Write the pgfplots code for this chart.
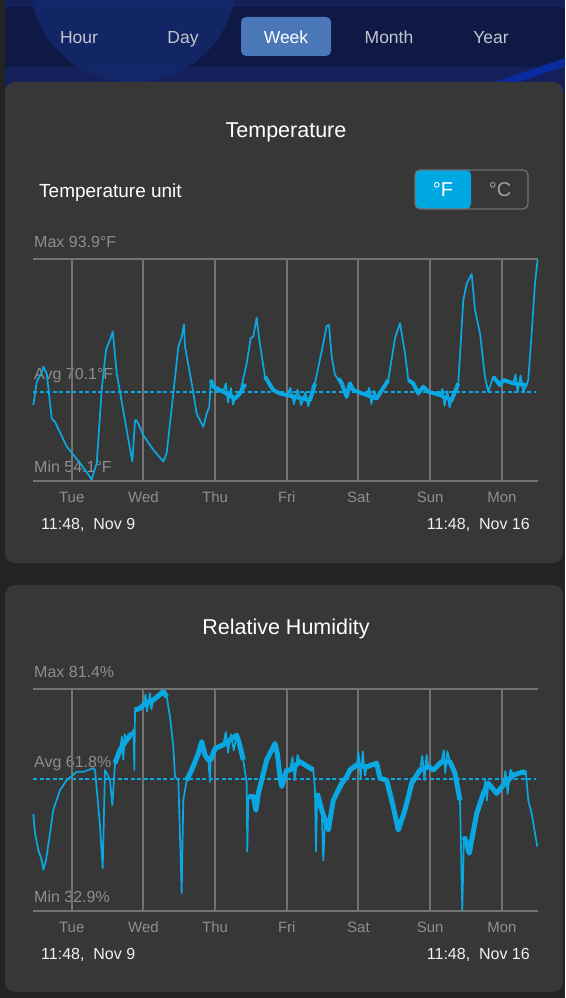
\documentclass[border=0pt]{standalone}
\usepackage{pgfplots}
\pgfplotsset{compat=1.18}
\usepackage{fontspec}
\setmainfont{Liberation Sans}
\definecolor{outerbg}{HTML}{232323}
\definecolor{cardbg}{HTML}{373737}
\definecolor{gridc}{HTML}{737373}
\definecolor{cyanc}{HTML}{0AA8E2}
\definecolor{lblgray}{HTML}{8E8E8E}
\definecolor{navy}{HTML}{0F1946}
\definecolor{navyl}{HTML}{15205A}
\definecolor{navyc}{HTML}{13296C}
\definecolor{navyb}{HTML}{0A2AA0}
\definecolor{weekbtn}{HTML}{4A77B7}
\definecolor{tabtxt}{HTML}{C4C6CE}
\definecolor{datec}{HTML}{F0F0F0}
\definecolor{togborder}{HTML}{707070}
\definecolor{togblue}{HTML}{00A8E2}
\definecolor{togtxt}{HTML}{A0A0A0}

\pgfplotsset{
  chartstyle/.style={
    scale only axis, width=504.4pt, height=222pt,
    xmin=-0.536, xmax=6.5,
    xtick={0,...,6},
    xticklabels={Tue,Wed,Thu,Fri,Sat,Sun,Mon},
    xticklabel style={font=\fontsize{15}{15}\selectfont, text=lblgray, anchor=base, yshift=-21.5pt},
    yticklabels={},
    xmajorgrids, ymajorgrids,
    major grid style={gridc, line width=2pt},
    axis line style={draw=none},
    major tick length=0pt,
    clip=false,
    unbounded coords=jump,
  },
  dataline/.style={cyanc, line width=1.7pt, line join=round, no markers},
  bandline/.style={cyanc, line width=5pt, line join=round, no markers},
  avgline/.style={cyanc, line width=1.8pt, dash pattern=on 4pt off 2.5pt, no markers},
}

\begin{document}
\begin{tikzpicture}[x=1pt,y=1pt]
\useasboundingbox (0,0) rectangle (565,998);
\fill[outerbg] (0,0) rectangle (565,998);
% tab bar
\begin{scope}
\clip (5,905) rectangle (565,998);
\fill[navy] (5,905) rectangle (565,998);
\fill[navyl] (5,991) rectangle (565,998);
\fill[navyl] (5,905) rectangle (565,931);
\fill[navyc, opacity=0.8] (133,1018) circle (103);
\fill[navyb] (495,916) -- (565,940) -- (565,932) -- (520,916) -- cycle;
\end{scope}
\fill[weekbtn, rounded corners=5pt] (241,942) rectangle (331,981);
\begin{scope}[font=\fontsize{17.5}{17.5}\selectfont]
\node[anchor=base, text=tabtxt, inner sep=0] at (79,954) {Hour};
\node[anchor=base, text=tabtxt, inner sep=0] at (183,954) {Day};
\node[anchor=base, text=white, inner sep=0] at (286,954) {Week};
\node[anchor=base, text=tabtxt, inner sep=0] at (389,954) {Month};
\node[anchor=base, text=tabtxt, inner sep=0] at (491,954) {Year};
\end{scope}
% cards
\fill[cardbg, rounded corners=10pt] (5,435) rectangle (563,916);
\fill[cardbg, rounded corners=10pt] (5,6) rectangle (563,413);
% card 1 texts
\node[anchor=base, text=white, inner sep=0, font=\fontsize{21.5}{21.5}\selectfont] at (286,860.5) {Temperature};
\node[anchor=base west, text=white, inner sep=0, font=\fontsize{19}{19}\selectfont] at (39,800) {Temperature unit};
\fill[togblue, rounded corners=5pt] (415,789) -- (415,828) -- (471,828) -- (471,789) -- cycle;
\draw[togborder, line width=1.2pt, rounded corners=5pt] (415,789) rectangle (528,828);
\node[text=white, font=\fontsize{20}{20}\selectfont] at (443,808) {°F};
\node[text=togtxt, font=\fontsize{20}{20}\selectfont] at (500,808) {°C};
\begin{scope}[font=\fontsize{16}{16}\selectfont]
\node[anchor=base west, text=lblgray, inner sep=0] at (34,750) {Max 93.9°F};
\node[anchor=base west, text=lblgray, inner sep=0] at (34,618) {Avg 70.1°F};
\node[anchor=base west, text=lblgray, inner sep=0] at (34,525.5) {Min 54.1°F};
\node[anchor=base west, text=datec, inner sep=0] at (41,468) {11:48,\ \ Nov 9};
\node[anchor=base east, text=datec, inner sep=0] at (530,468) {11:48,\ \ Nov 16};
\end{scope}
% card 2 texts
\node[anchor=base, text=white, inner sep=0, font=\fontsize{21.5}{21.5}\selectfont] at (286,363) {Relative Humidity};
\begin{scope}[font=\fontsize{16}{16}\selectfont]
\node[anchor=base west, text=lblgray, inner sep=0] at (34,320) {Max 81.4\%};
\node[anchor=base west, text=lblgray, inner sep=0] at (34,230) {Avg 61.8\%};
\node[anchor=base west, text=lblgray, inner sep=0] at (34,95.5) {Min 32.9\%};
\node[anchor=base west, text=datec, inner sep=0] at (41,38) {11:48,\ \ Nov 9};
\node[anchor=base east, text=datec, inner sep=0] at (530,38) {11:48,\ \ Nov 16};
\end{scope}

% temperature chart
\begin{axis}[chartstyle, at={(33.3pt,517pt)}, anchor=south west,
  ymin=54.1, ymax=93.9, ytick={54.1,93.9}]
\addplot[avgline] coordinates {(-0.536,70.1) (6.47,70.1)};
\addplot[dataline] coordinates {
(-0.536,67.7)(-0.488,71.9)(-0.45,72.8)(-0.42,73.5)(-0.396,74.6)(-0.349,73.4)(-0.279,65.3)(-0.233,64.7)
(-0.070,60.3)(0.116,57.3)(0.279,54.4)(0.349,57.3)(0.418,70.4)(0.478,77.6)(0.534,79.4)(0.572,80.9)
(0.628,73.4)(0.767,63.2)(0.845,57.6)(0.883,65.0)(0.907,65.0)(0.999,62.3)(1.138,59.7)(1.278,57.6)
(1.325,59.1)(1.417,69.8)(1.487,78.2)(1.534,79.9)(1.566,82.2)(1.580,78.2)(1.674,71.6)(1.743,66.2)
(1.835,63.8)(1.883,66.2)(1.919,67.4)(1.939,72.2)(1.975,71.0)(2.114,70.1)
(2.15,71.6)(2.18,68.2)(2.22,70.8)(2.25,67.8)
(2.278,68.9)(2.347,69.8)
(2.441,75.2)(2.496,79.7)(2.533,80.0)(2.580,83.4)(2.616,79.4)(2.696,72.8)(2.812,70.4)(2.905,69.8)
(2.999,69.5)(3.05,70.8)(3.10,67.9)(3.15,70.5)(3.20,67.7)(3.26,70.0)(3.30,67.5)
(3.324,68.6)(3.393,71.6)(3.509,78.8)(3.556,81.9)(3.589,82.1)(3.626,76.4)(3.672,73.1)
(3.766,71.6)(3.835,69.2)(3.881,71.6)(3.927,70.4)(4.114,69.5)(4.15,70.8)(4.18,67.9)(4.22,70.3)
(4.254,68.9)(4.416,72.2)(4.509,79.7)
(4.579,82.4)(4.649,77.0)(4.695,72.2)(4.764,71.6)(4.834,69.8)(4.904,71.0)(4.974,70.1)(5.137,69.5)
(5.17,70.6)(5.20,67.6)(5.24,70.2)(5.27,67.3)
(5.300,68.6)(5.392,71.6)(5.462,86.5)(5.509,89.5)(5.579,91.2)(5.625,84.8)(5.695,80.6)(5.764,72.8)
(5.810,70.1)(5.880,72.8)(5.973,71.3)(6.020,72.2)(6.159,71.6)
(6.19,73.2)(6.22,70.0)(6.26,73.0)(6.30,70.2)
(6.346,71.3)(6.368,72.2)(6.416,80.6)
(6.462,89.5)(6.499,93.8)};
\addplot[bandline, line width=4pt] coordinates {
(1.939,72.2)(1.975,71.0)(2.114,70.1)(2.278,68.9)(2.347,69.8)(2.42,71.5)(2.42,nan)
(2.696,72.8)(2.812,70.4)(2.905,69.8)(2.999,69.5)(3.324,68.6)(3.393,71.6)(3.393,nan)
(3.72,72.5)(3.766,71.6)(3.835,69.2)(3.881,71.6)(3.927,70.4)(4.114,69.5)(4.254,68.9)(4.416,72.2)(4.416,nan)
(4.695,72.2)(4.764,71.6)(4.834,69.8)(4.904,71.0)(4.974,70.1)(5.137,69.5)(5.300,68.6)(5.392,71.6)(5.392,nan)
(5.880,72.8)(5.973,71.3)(6.020,72.2)(6.159,71.6)(6.346,71.3)};
\end{axis}

% humidity chart
\begin{axis}[chartstyle, at={(33.3pt,87pt)}, anchor=south west,
  ymin=32.9, ymax=81.4, ytick={32.9,81.4}]
\addplot[avgline] coordinates {(-0.536,61.8) (6.47,61.8)};
\addplot[dataline] coordinates {
(-0.536,54.1)(-0.512,49.9)(-0.466,46.2)(-0.418,44.0)(-0.396,41.9)(-0.358,44.0)(-0.303,49.9)(-0.257,55.0)
(-0.163,59.3)(-0.070,61.5)(0.070,63.3)(0.162,63.3)(0.301,64.1)(0.325,63.7)(0.371,55.7)(0.395,51.3)
(0.432,42.2)(0.464,63.7)(0.488,63.0)(0.534,61.5)(0.566,56.0)(0.604,65.2)(0.674,68.1)
(0.70,71.0)(0.72,66.0)(0.74,71.5)(0.767,70.3)
(0.837,71.7)(0.862,72.5)(0.873,63.7)(0.880,72.5)(0.883,76.8)(0.953,77.2)(0.999,77.9)
(1.03,80.2)(1.05,76.5)(1.09,80.5)(1.11,77.0)(1.138,79.0)
(1.278,80.8)(1.325,79.7)(1.371,75.3)(1.417,68.8)(1.441,62.2)(1.487,61.5)(1.534,36.8)(1.556,57.1)
(1.604,61.5)(1.674,63.7)(1.766,67.3)(1.813,69.9)(1.859,67.0)(1.905,65.9)(1.929,61.1)(1.939,65.9)
(1.999,68.4)(2.114,69.2)(2.15,72.0)(2.18,67.5)(2.22,71.5)(2.26,68.0)
(2.301,71.3)(2.338,69.5)(2.393,65.9)(2.441,60.8)(2.449,45.9)(2.463,57.9)
(2.533,57.9)(2.570,55.0)(2.603,58.6)(2.720,65.9)(2.835,69.5)(2.868,67.3)(2.905,62.2)(2.929,60.1)
(2.999,63.7)(3.045,63.7)(3.08,66.5)(3.11,61.5)(3.15,67.0)
(3.184,65.5)(3.370,63.7)(3.393,59.3)(3.407,45.9)(3.425,58.6)(3.487,55.0)
(3.509,44.0)(3.533,52.8)(3.579,50.6)(3.649,57.1)(3.766,60.8)(3.835,62.2)(3.881,63.7)(3.975,64.8)
(4.00,67.5)(4.03,62.0)(4.06,67.8)(4.09,62.5)
(4.114,64.4)(4.254,65.2)(4.300,61.9)(4.393,61.5)(4.485,55.7)(4.555,50.6)(4.649,55.0)(4.742,60.8)
(4.858,63.7)(4.89,66.8)(4.92,61.5)(4.95,67.0)
(4.974,64.4)(5.043,63.7)(5.160,65.5)(5.19,68.0)(5.21,63.0)(5.24,67.8)
(5.276,65.5)(5.346,63.0)(5.416,57.1)(5.448,33.1)
(5.471,49.1)(5.509,47.7)(5.545,45.5)(5.579,48.4)(5.649,54.2)(5.741,58.6)(5.77,61.5)(5.79,57.0)(5.810,60.8)(5.927,58.6)
(6.020,60.4)(6.05,63.5)(6.08,58.5)(6.12,63.8)
(6.159,62.6)(6.299,63.3)(6.336,63.0)(6.368,57.1)(6.416,54.2)(6.462,49.9)(6.494,47.0)};
\addplot[bandline] coordinates {
(0.604,65.2)(0.674,68.1)(0.767,70.3)(0.837,71.7)(0.837,nan)
(0.883,76.8)(0.953,77.2)(0.999,77.9)(1.138,79.0)(1.278,80.8)(1.325,79.7)(1.325,nan)
(1.604,61.5)(1.674,63.7)(1.766,67.3)(1.813,69.9)(1.859,67.0)(1.905,65.9)(1.939,65.9)(1.999,68.4)
(2.114,69.2)(2.301,71.3)(2.338,69.5)(2.393,65.9)(2.393,nan)
(2.463,57.9)(2.533,57.9)(2.570,55.0)(2.603,58.6)(2.720,65.9)(2.835,69.5)(2.868,67.3)(2.905,62.2)
(2.929,60.1)(2.999,63.7)(3.045,63.7)(3.184,65.5)(3.370,63.7)(3.370,nan)
(3.425,58.6)(3.487,55.0)(3.533,52.8)(3.579,50.6)(3.649,57.1)(3.766,60.8)(3.835,62.2)(3.881,63.7)
(3.975,64.8)(4.114,64.4)(4.254,65.2)(4.300,61.9)(4.393,61.5)(4.485,55.7)(4.555,50.6)(4.649,55.0)
(4.742,60.8)(4.858,63.7)(4.974,64.4)(5.043,63.7)(5.160,65.5)(5.276,65.5)(5.346,63.0)(5.416,57.1)(5.416,nan)
(5.471,49.1)(5.509,47.7)(5.545,45.5)(5.579,48.4)(5.649,54.2)(5.741,58.6)(5.810,60.8)(5.927,58.6)
(6.020,60.4)(6.159,62.6)(6.299,63.3)(6.336,63.0)};
\end{axis}
\end{tikzpicture}
\end{document}
